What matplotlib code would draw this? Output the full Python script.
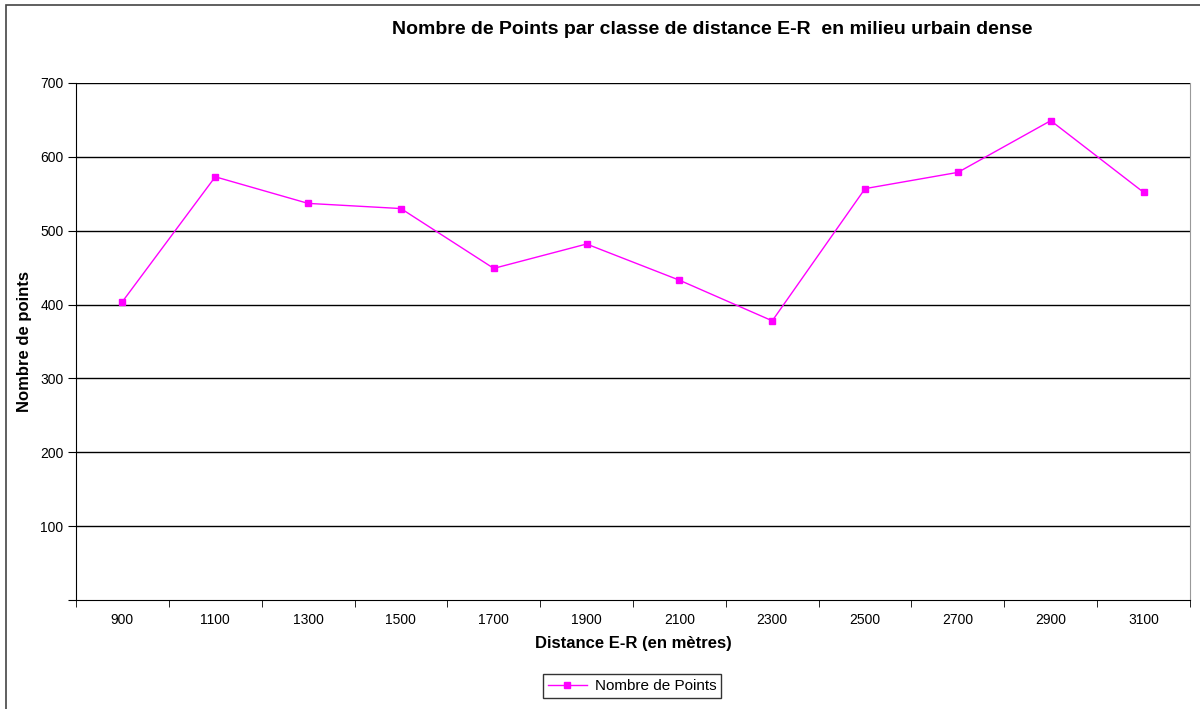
import matplotlib
matplotlib.use("Agg")
import matplotlib.pyplot as plt
from matplotlib.patches import Rectangle

# data
distances = ["900", "1100", "1300", "1500", "1700", "1900",
             "2100", "2300", "2500", "2700", "2900", "3100"]
nb_points = [404, 573, 537, 530, 449, 482, 433, 378, 557, 579, 649, 552]
y_ticks = [100, 200, 300, 400, 500, 600, 700]

plt.rcParams['font.family'] = ['Liberation Sans', 'DejaVu Sans']

fig = plt.figure(figsize=(12, 7.09), dpi=100, facecolor='w')
ax = fig.add_axes([76/1200., 1 - 600/709., (1190 - 76)/1200., (600 - 83)/709.])

x = list(range(len(distances)))
ax.plot(x, nb_points, color='#ff00ff', lw=1, marker='s', ms=5,
        mec='#ff00ff', mfc='#ff00ff', label="Nombre de Points")

ax.set_xlim(-0.5, len(distances) - 0.5)
ax.set_ylim(0, 700)

# categories centred, ticks on the boundaries
ax.set_xticks(x)
ax.set_xticklabels(distances, fontsize=10)
ax.tick_params(axis='x', which='major', length=0, pad=9)
ax.set_xticks([i - 0.5 for i in range(len(distances) + 1)], minor=True)
ax.tick_params(axis='x', which='minor', length=5, direction='out', color='k')

ax.set_yticks([0] + y_ticks)
ax.set_yticklabels([""] + [str(v) for v in y_ticks], fontsize=10)
ax.tick_params(axis='y', length=6, direction='out', pad=3, color='k')

for v in y_ticks:
    ax.axhline(v, color='k', lw=1, zorder=1)

ax.spines['top'].set_visible(False)
ax.spines['right'].set_color('#999999')
ax.spines['left'].set_color('k')
ax.spines['bottom'].set_color('k')

ax.set_title("Nombre de Points par classe de distance E-R  en milieu urbain dense",
             fontsize=14, fontweight='bold', x=(712 - 76)/1114., y=1.0, pad=35)
ax.set_xlabel("Distance E-R (en mètres)", fontsize=12, fontweight='bold', labelpad=7)
ax.set_ylabel("Nombre de points", fontsize=12, fontweight='bold', labelpad=6)

leg = ax.legend(loc='center', bbox_to_anchor=(632/1200., 1 - 686/709.),
                bbox_transform=fig.transFigure, fontsize=11, frameon=True,
                fancybox=False, handlelength=2.6, handletextpad=0.5,
                borderpad=0.3)
leg.get_frame().set_edgecolor('k')
leg.get_frame().set_linewidth(1)

# outer chart border
fig.patches.append(Rectangle((6/1200., -0.05), 1.0, 1 - 5/709. + 0.05,
                             transform=fig.transFigure, fill=False,
                             edgecolor='#444444', lw=1.2))

fig.savefig("out.png", dpi=100)
